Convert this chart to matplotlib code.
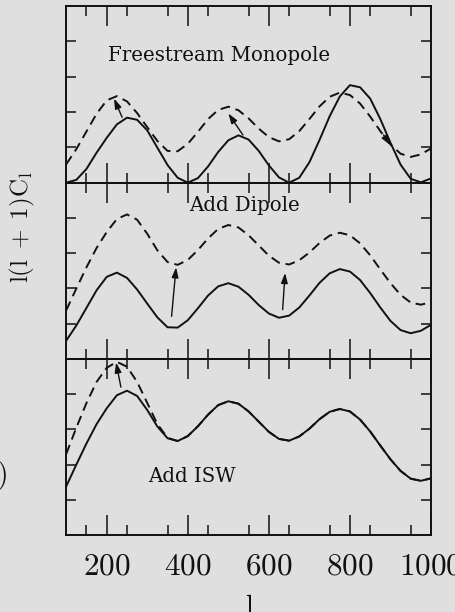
import numpy as np
import matplotlib
matplotlib.use("Agg")
import matplotlib.pyplot as plt

plt.rcParams.update({
    "font.family": "cmr10",
    "mathtext.fontset": "cm",
    "axes.formatter.use_mathtext": True,
    "axes.linewidth": 1.4,
})

# multipole grid and the four spectra (arbitrary units)
ell = np.arange(100, 1001, 25)

c_mono = [0.00, 0.08, 0.39, 0.85, 1.27, 1.65, 1.84, 1.78, 1.48, 0.99, 0.50, 0.14,
          0.00, 0.13, 0.46, 0.87, 1.20, 1.34, 1.22, 0.90, 0.49, 0.15, 0.00, 0.14,
          0.58, 1.21, 1.88, 2.44, 2.76, 2.70, 2.38, 1.80, 1.13, 0.51, 0.11, 0.01, 0.12]

c_dip = [0.52, 0.95, 1.45, 1.95, 2.33, 2.45, 2.30, 1.97, 1.57, 1.18, 0.90, 0.89,
         1.10, 1.44, 1.80, 2.06, 2.15, 2.05, 1.82, 1.53, 1.29, 1.17, 1.23, 1.46,
         1.80, 2.16, 2.43, 2.55, 2.48, 2.24, 1.87, 1.46, 1.08, 0.82, 0.73, 0.80, 0.97]

c_sw = [1.38, 2.00, 2.60, 3.15, 3.60, 3.97, 4.10, 3.95, 3.55, 3.08, 2.75, 2.67,
        2.81, 3.09, 3.42, 3.69, 3.80, 3.73, 3.51, 3.22, 2.93, 2.73, 2.68, 2.80,
        3.02, 3.29, 3.50, 3.58, 3.51, 3.28, 2.94, 2.54, 2.15, 1.82, 1.60, 1.54, 1.61]

# early ISW only changes the low-l end (l = 100 ... 350)
c_isw_low = [2.30, 3.05, 3.75, 4.35, 4.75, 4.92, 4.78, 4.35, 3.75, 3.15, 2.76]
c_isw = c_isw_low + c_sw[len(c_isw_low):]

panels = [
    ("Freestream Monopole", c_mono, c_dip, (204, 3.45)),
    ("Add Dipole", c_dip, c_sw, (404, 4.20)),
    ("Add ISW", c_sw, c_isw, (303, 1.50)),
]

# arrows: (tail l, tail y, head l, head y) per panel
arrows = [
    [(238, 1.85, 218, 2.38), (536, 1.35, 500, 1.96), (883, 1.35, 900, 1.06)],
    [(360, 1.21, 371, 2.60), (634, 1.40, 640, 2.44)],
    [(235, 4.20, 223, 4.90)],
]

INK = "#111111"
BG = "#dfdfdf"

W, H = 456, 612
fig = plt.figure(figsize=(W / 100, H / 100), dpi=100, facecolor=BG)

left, right = 66.2, 431.0
edges = [6.0, 182.7, 359.0, 535.0]

for i, (title, solid, dashed, tpos) in enumerate(panels):
    top, bot = edges[i], edges[i + 1]
    ax = fig.add_axes([left / W, 1 - bot / H, (right - left) / W, (bot - top) / H])
    ax.set_facecolor("none")
    ax.plot(ell, solid, color=INK, lw=1.4, solid_joinstyle="round")
    ax.plot(ell, dashed, color=INK, lw=1.4, dashes=(5, 3))
    for (x0, y0, x1, y1) in arrows[i]:
        ax.annotate("", xy=(x1, y1), xytext=(x0, y0),
                    arrowprops=dict(arrowstyle="-|>,head_length=0.6,head_width=0.2",
                                    color=INK, lw=1.0, shrinkA=0, shrinkB=0,
                                    mutation_scale=10))
    ax.text(tpos[0], tpos[1], title, family="DejaVu Serif", fontsize=14.2,
            color=INK, va="baseline", ha="left")

    ax.set_xlim(100, 1000)
    ax.set_ylim(0, 5)
    ax.set_xticks([200, 400, 600, 800, 1000])
    ax.set_xticks(np.arange(150, 1000, 100), minor=True)
    ax.set_yticks([1, 2, 3, 4])
    ax.tick_params(axis="x", which="major", direction="in", length=14.4, width=1.1,
                   top=True, bottom=True, color=INK)
    ax.tick_params(axis="x", which="minor", direction="in", length=7.2, width=1.1,
                   top=True, bottom=True, color=INK)
    ax.tick_params(axis="y", direction="in", length=7.2, width=1.1,
                   left=True, right=True, labelleft=False, color=INK)
    for s in ax.spines.values():
        s.set_color(INK)
    if i < 2:
        ax.tick_params(axis="x", labelbottom=False)
    else:
        ax.tick_params(axis="x", which="major", labelsize=22.5, pad=13,
                       labelcolor=INK)

fig.text(248.5 / W, 1 - 595 / H, "l", fontsize=20, ha="center", va="top", color=INK)
fig.text(22.5 / W, 1 - 227.5 / H, r"$\mathrm{l(l\;+\;1)C_l}$", fontsize=18,
         rotation=90, ha="center", va="center", color=INK)
fig.text(8.5 / W, 1 - 475 / H, "l)", fontsize=20, ha="right", va="center", color=INK)

fig.savefig("out.png", dpi=100, facecolor=BG)
